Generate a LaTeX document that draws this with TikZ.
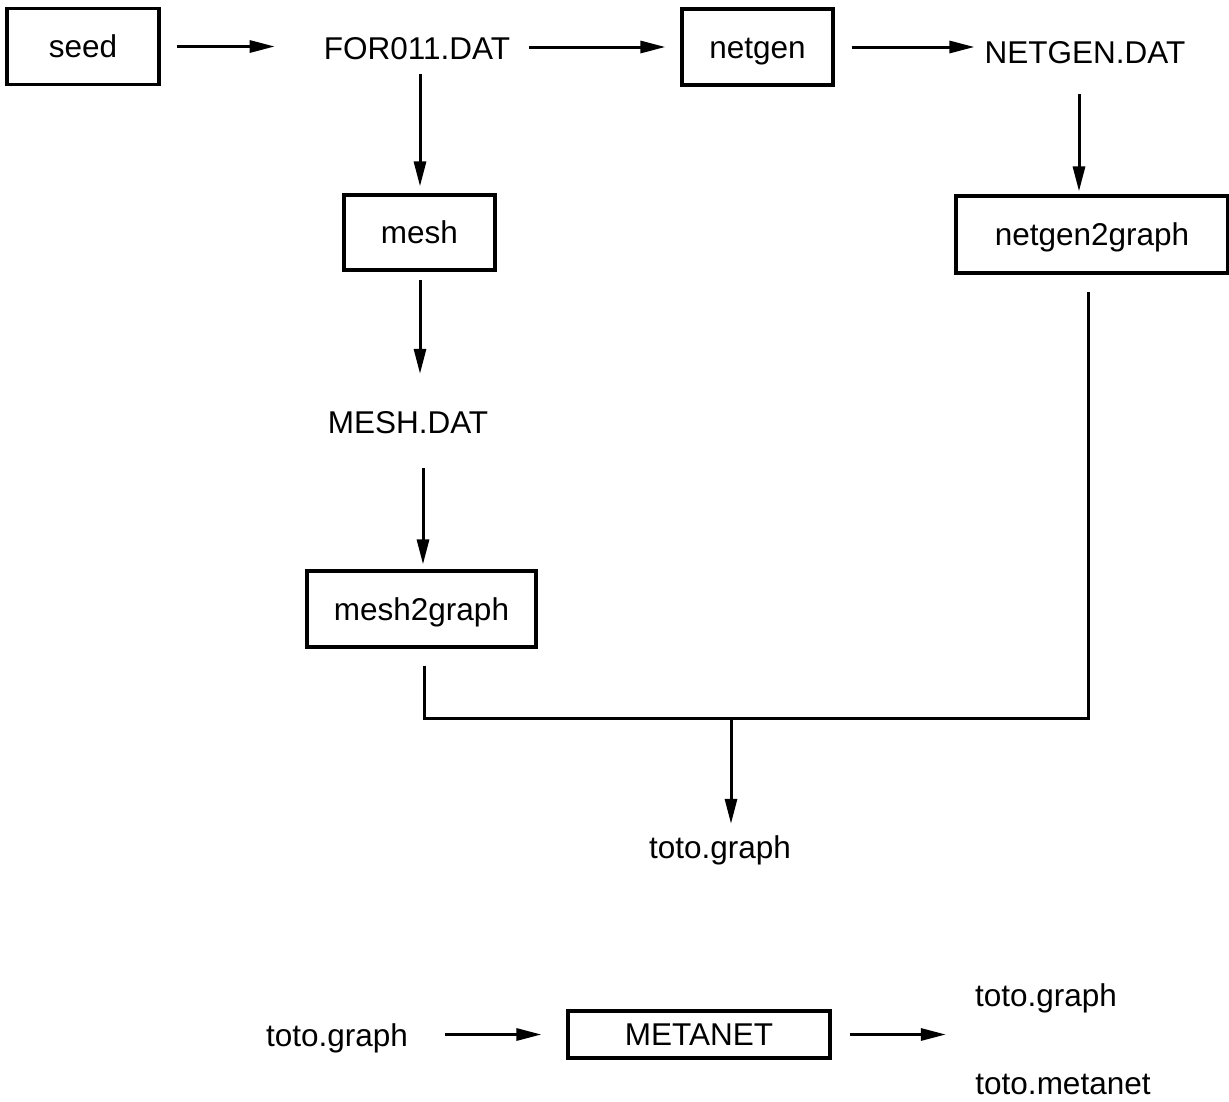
\documentclass[tikz,border=0pt]{standalone}
\usepackage{fontspec}
\setmainfont{Liberation Sans}
\usetikzlibrary{arrows.meta}
\begin{document}
\begin{tikzpicture}[x=1bp,y=-1bp,
  every node/.style={font=\fontsize{31.5bp}{38bp}\selectfont, text height=22bp, text depth=0pt, inner sep=0pt},
  proc/.style={draw, line width=3.2bp, minimum width=#1, minimum height=76bp},
  lbl/.style={},
  link/.style={line width=3bp},
  arr/.style={line width=3bp, -{Triangle[length=25bp,width=12bp]}}]
\useasboundingbox (0,0) rectangle (1229,1102);
% boxes
\node[proc=152bp] (seed) at (83,46.5) {seed};
\node[proc=151bp] (netgen) at (757.5,47) {netgen};
\node[proc=151bp, minimum height=75bp] (mesh) at (419.5,232.5) {mesh};
\node[proc=229bp] (m2g) at (421.5,609) {mesh2graph};
\node[proc=272bp, minimum height=77bp] (n2g) at (1092,234.5) {netgen2graph};
\node[proc=262bp, minimum height=47bp] (metanet) at (699,1034.5) {METANET};
% file labels
\node[lbl] (for) at (417,48) {FOR011.DAT};
\node[lbl] (ngdat) at (1085,52) {NETGEN.DAT};
\node[lbl] (meshdat) at (408,422) {MESH.DAT};
\node[lbl] (toto1) at (720,847) {toto.graph};
\node[lbl] (toto2) at (337,1035) {toto.graph};
\node[lbl] (toto3) at (1046,995) {toto.graph};
\node[lbl] (totometa) at (1063,1083) {toto.metanet};
% bus coordinates
\coordinate (busL) at (424,718);
\coordinate (busR) at (1088,718);
\coordinate (join) at (731,718);
% top row
\draw[arr, shorten <=16bp, shorten >=49bp] (seed.east) -- (seed.east -| for.west);
\draw[arr, shorten <=19bp, shorten >=15bp] (netgen.west -| for.east) -- (netgen.west);
\draw[arr, shorten <=17bp, shorten >=10bp] (netgen.east) -- (netgen.east -| ngdat.west);
% left column
\draw[arr, shorten <=15bp, shorten >=7bp] ([xshift=0.5bp]mesh.north |- for.south) -- ([xshift=0.5bp]mesh.north);
\draw[arr, shorten <=8bp, shorten >=37bp] ([xshift=0.5bp]mesh.south) -- ([xshift=0.5bp]mesh.south |- meshdat.north);
\draw[arr, shorten <=35bp, shorten >=5bp] ([xshift=1.5bp]m2g.north |- meshdat.south) -- ([xshift=1.5bp]m2g.north);
% right column
\draw[arr, shorten <=31bp, shorten >=3bp] ([xshift=-6bp]ngdat.south) -- ([xshift=-6bp]ngdat.south |- n2g.north);
% merge
\draw[link, shorten <=17bp, shorten >=17bp] (m2g.south -| busL) -- (busL) -- (busR) -- (n2g.south -| busR);
\draw[arr, shorten >=12bp] (join) -- (join |- toto1.north);
% bottom row
\draw[arr, shorten <=37bp, shorten >=25bp] (metanet.west -| toto2.east) -- (metanet.west);
\draw[arr, shorten <=18bp, shorten >=29bp] (metanet.east) -- (metanet.east -| toto3.west);
\end{tikzpicture}
\end{document}
